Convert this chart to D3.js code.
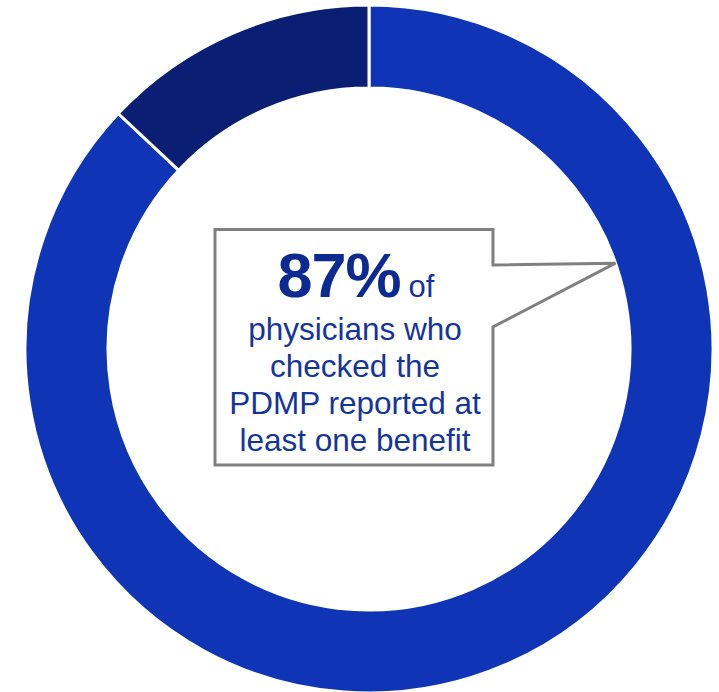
<!DOCTYPE html>
<html>
<head>
<meta charset="utf-8">
<script src="https://cdn.jsdelivr.net/npm/d3@7"></script>
<style>
  html, body { margin: 0; padding: 0; background: #ffffff; }
  svg { display: block; }
</style>
</head>
<body>
<svg id="chart" width="719" height="692"></svg>
<script>
// Share of physicians who checked the PDMP
const categories = ["Reported at least one benefit", "No benefit reported"];
const values = [87, 13];
const colors = ["#1034b6", "#0a1f74"];

// Callout text
const headline = "87%";
const headlineTail = "of";
const bodyLines = ["physicians who", "checked the", "PDMP reported at", "least one benefit"];

const width = 719, height = 692;
const cx = 369, cy = 349;
const outerR = 344, innerR = 261;

const svg = d3.select("#chart");

const pie = d3.pie().sort(null).value(d => d.value);
const arc = d3.arc().innerRadius(innerR).outerRadius(outerR);

const data = categories.map((c, i) => ({ category: c, value: values[i], color: colors[i] }));

const g = svg.append("g").attr("transform", `translate(${cx},${cy})`);
g.selectAll("path.slice")
  .data(pie(data))
  .join("path")
  .attr("class", "slice")
  .attr("d", arc)
  .attr("fill", d => d.data.color)
  .attr("stroke", "#ffffff")
  .attr("stroke-width", 3)
  .attr("stroke-linejoin", "miter");

// Callout box with a pointer touching the inner edge of the ring
const box = { x0: 215, y0: 229.5, x1: 493, y1: 465 };
const tipAngle = 70.8 * Math.PI / 180;           // measured clockwise from top
const tip = [cx + innerR * Math.sin(tipAngle), cy - innerR * Math.cos(tipAngle)];
const notchTop = 265, notchBottom = 327;

const calloutPath = d3.path();
calloutPath.moveTo(box.x0, box.y0);
calloutPath.lineTo(box.x1, box.y0);
calloutPath.lineTo(box.x1, notchTop);
calloutPath.lineTo(tip[0], tip[1]);
calloutPath.lineTo(box.x1, notchBottom);
calloutPath.lineTo(box.x1, box.y1);
calloutPath.lineTo(box.x0, box.y1);
calloutPath.closePath();

svg.append("path")
  .attr("d", calloutPath.toString())
  .attr("fill", "#ffffff")
  .attr("stroke", "#808080")
  .attr("stroke-width", 3)
  .attr("stroke-linejoin", "miter");

const textX = 356;
const font = "'Liberation Sans', Arial, Helvetica, sans-serif";

const head = svg.append("text")
  .attr("x", textX)
  .attr("y", 297)
  .attr("text-anchor", "middle")
  .attr("font-family", font)
  .attr("fill", "#0c2a92");
head.append("tspan")
  .attr("font-size", 63)
  .attr("font-weight", "bold")
  .attr("letter-spacing", -1)
  .text(headline);
head.append("tspan")
  .attr("font-size", 31)
  .attr("dx", 8)
  .attr("fill", "#15349c")
  .text(headlineTail);

svg.append("g")
  .selectAll("text")
  .data(bodyLines)
  .join("text")
  .attr("x", 355)
  .attr("y", (d, i) => 340 + i * 37)
  .attr("text-anchor", "middle")
  .attr("font-family", font)
  .attr("font-size", 31.5)
  .attr("fill", "#15349c")
  .text(d => d);
</script>
</body>
</html>
